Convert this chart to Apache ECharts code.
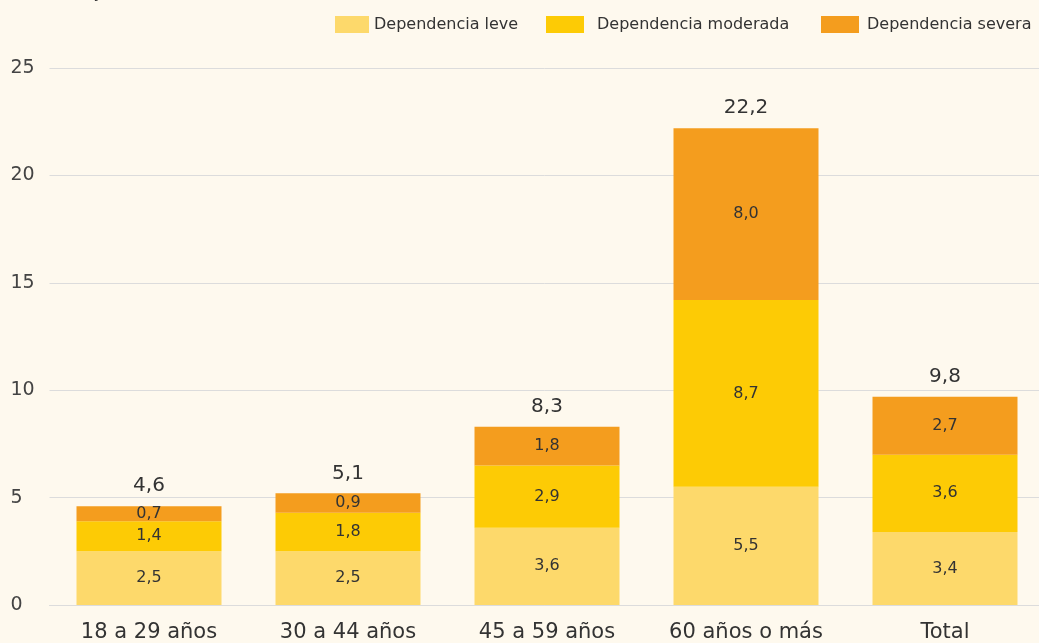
<!DOCTYPE html>
<html lang="es">
<head>
    <meta charset="UTF-8">
    <title>Dependencia por grupo de edad</title>
    <script src="https://cdn.jsdelivr.net/npm/echarts@6/dist/echarts.min.js"></script>
    <style>
        html, body { margin: 0; padding: 0; background: #fef9ee; }
        #chart { width: 1039px; height: 643px; }
    </style>
</head>
<body>
    <div id="chart"></div>

    <script>
        // datos
        const categorias = ['18 a 29 años', '30 a 44 años', '45 a 59 años', '60 años o más', 'Total'];
        const leve = [2.5, 2.5, 3.6, 5.5, 3.4];
        const moderada = [1.4, 1.8, 2.9, 8.7, 3.6];
        const severa = [0.7, 0.9, 1.8, 8.0, 2.7];
        const totales = [4.6, 5.1, 8.3, 22.2, 9.8];
        const ejeY = [0, 5, 10, 15, 20, 25];

        const fuente = 'DejaVu Sans';
        const coma = v => v.toFixed(1).replace('.', ',');

        const chart = echarts.init(document.getElementById('chart'));

        function serieApilada(nombre, datos, color) {
            return {
                name: nombre,
                type: 'bar',
                stack: 'total',
                barWidth: 145,
                data: datos,
                itemStyle: { color: color },
                label: {
                    show: true,
                    position: 'inside',
                    color: '#333',
                    fontFamily: fuente,
                    fontSize: 16,
                    formatter: p => coma(p.value)
                }
            };
        }

        // una leyenda por serie para colocar cada una donde va
        function leyenda(nombre, x, ancho, sep) {
            return {
                data: [nombre],
                left: x,
                top: 11,
                icon: 'rect',
                itemWidth: ancho,
                itemHeight: 17,
                itemGap: 0,
                selectedMode: false,
                textStyle: { color: '#333', fontFamily: fuente, fontSize: 16, padding: [0, 0, 0, sep] }
            };
        }

        chart.setOption({
            backgroundColor: '#fef9ee',
            animation: false,
            graphic: [{
                type: 'text',
                left: 0,
                top: -18,
                style: { text: '(Porcentaje)', fontFamily: fuente, fontSize: 20, fill: '#333' }
            }],
            legend: [
                leyenda('Dependencia leve', 330, 34, 0),
                leyenda('Dependencia moderada', 541, 38, 8),
                leyenda('Dependencia severa', 816, 38, 3)
            ],
            grid: { left: 49.5, width: 995, top: 68, bottom: 38, outerBoundsMode: 'none' },
            xAxis: {
                type: 'category',
                data: categorias,
                axisLine: { lineStyle: { color: '#dcdcdc' } },
                axisTick: { show: false },
                axisLabel: { interval: 0, color: '#333', fontFamily: fuente, fontSize: 21, margin: 17 }
            },
            yAxis: {
                type: 'value',
                min: ejeY[0],
                max: ejeY[ejeY.length - 1],
                interval: 5,
                axisLine: { show: false },
                axisTick: { show: false },
                splitLine: { lineStyle: { color: '#dcdcdc' } },
                axisLabel: { color: '#444', fontFamily: fuente, fontSize: 19, align: 'left', margin: 39 }
            },
            series: [
                serieApilada('Dependencia leve', leve, '#fdd96b'),
                serieApilada('Dependencia moderada', moderada, '#fdcb05'),
                serieApilada('Dependencia severa', severa, '#f49d1e'),
                {
                    name: 'Total',
                    type: 'bar',
                    stack: 'total',
                    barWidth: 145,
                    data: totales.map(() => 0),
                    itemStyle: { color: 'transparent' },
                    label: {
                        show: true,
                        position: 'top',
                        distance: 10,
                        color: '#333',
                        fontFamily: fuente,
                        fontSize: 20,
                        formatter: p => coma(totales[p.dataIndex])
                    }
                }
            ]
        });

        window.addEventListener('resize', function() {
            chart.resize();
        });
    </script>
</body>
</html>
